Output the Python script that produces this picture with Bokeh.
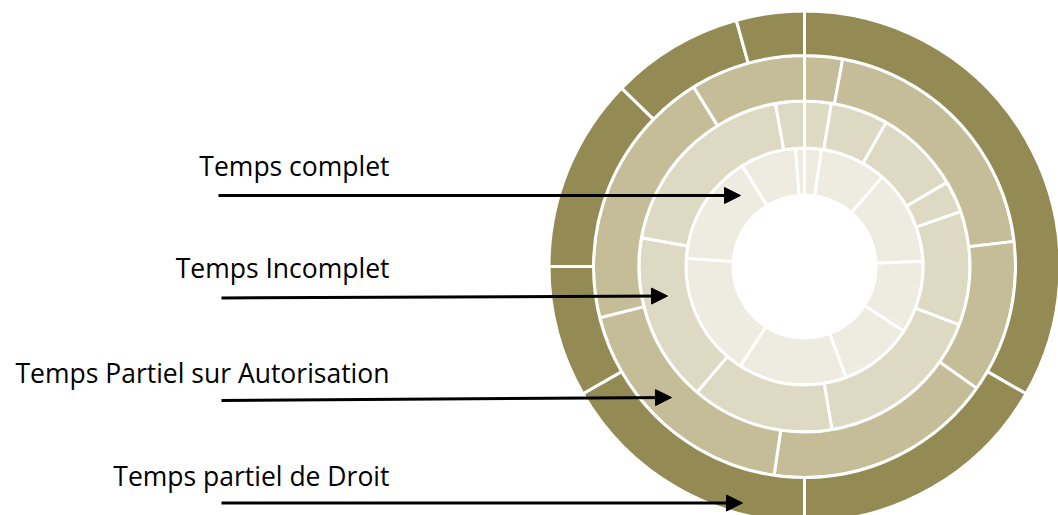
import numpy as np
from bokeh.plotting import figure
from bokeh.models import ColumnDataSource, Range1d, Arrow, NormalHead
from bokeh.core.properties import value
from bokeh.embed import file_html
from bokeh.resources import INLINE

# ---- data (shares in %, clockwise from 12 o'clock) ----
labels = ["Temps complet", "Temps Incomplet",
          "Temps Partiel sur Autorisation", "Temps partiel de Droit"]
temps_complet = [2.3, 9.1, 12.9, 9.9, 10.1, 14.8, 17.0, 15.1, 7.6, 1.2]
temps_incomplet = [2.6, 5.6, 8.3, 3.1, 11.1, 16.6, 13.9, 16.5, 19.4, 2.8]
temps_partiel_autorisation = [2.9, 20.2, 11.7, 17.5, 18.8, 20.1, 8.8]
temps_partiel_droit = [33.3, 16.7, 16.7, 8.3, 12.3, 8.4, 4.3]
ring_colors = ["#EEECE1", "#DDD9C3", "#C4BD97", "#948A54"]

# ---- layout (pixel-like coordinates, y = -screen_y) ----
W, H = 1058, 515
cx, cy = 804, -266
ring_edges = [71.5, 118.5, 165.5, 211.0, 255.5]

p = figure(width=W, height=H, output_backend="svg", toolbar_location=None,
           x_range=Range1d(0, W), y_range=Range1d(-H, 0),
           x_axis_location=None, y_axis_location=None, min_border=0,
           outline_line_color=None, background_fill_color="white",
           border_fill_color="white")
p.grid.visible = False

series = [temps_complet, temps_incomplet, temps_partiel_autorisation, temps_partiel_droit]
for i, vals in enumerate(series):
    v = np.array(vals, dtype=float)
    frac = v / v.sum()
    cum = np.concatenate([[0.0], np.cumsum(frac)]) * 2 * np.pi
    # clockwise from top -> bokeh anticlockwise from +x
    start = np.pi / 2 - cum[1:]
    end = np.pi / 2 - cum[:-1]
    src = ColumnDataSource(dict(start=start, end=end, val=v))
    p.annular_wedge(x=cx, y=cy, inner_radius=ring_edges[i], outer_radius=ring_edges[i + 1],
                    start_angle="start", end_angle="end", source=src,
                    fill_color=ring_colors[i], line_color="white", line_width=3)

# ---- labels and arrows ----
text_x = [389, 389, 389, 389]
text_y = [-165, -267, -372, -475]
p.text(x=text_x, y=text_y, text=labels, text_align="right", text_baseline="alphabetic",
       text_font=value("Open Sans"), text_font_size="26.5px", text_color="#000000")

arrows = [((218, -195), (740, -195)),
          ((221, -297.5), (667, -295.5)),
          ((221, -400), (671, -397)),
          ((221, -502.5), (742, -502.5))]
for (xs, ys), (xe, ye) in arrows:
    p.add_layout(Arrow(end=NormalHead(size=16, fill_color="black", line_color="black", line_width=1),
                       x_start=xs, y_start=ys, x_end=xe, y_end=ye,
                       line_color="black", line_width=3))

open("out.html", "w").write(file_html(p, INLINE))
